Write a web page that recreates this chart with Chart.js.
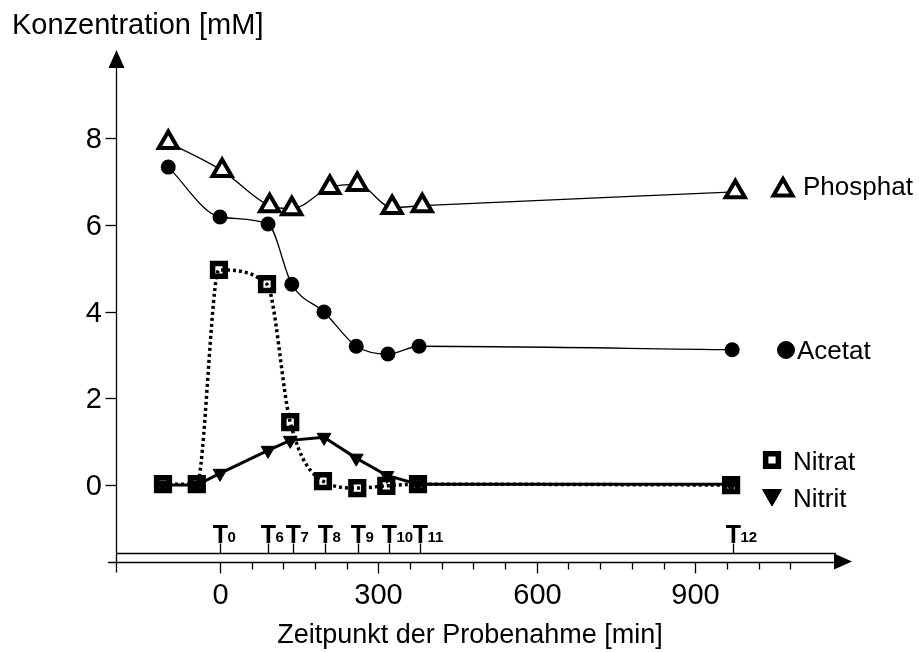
<!DOCTYPE html>
<html>
<head>
<meta charset="utf-8">
<script src="https://cdn.jsdelivr.net/npm/chart.js@4.4.0/dist/chart.umd.min.js"></script>
<style>
  html, body { margin: 0; padding: 0; background: #fff; }
  canvas { display: block; }
</style>
</head>
<body>
<canvas id="chart" width="919" height="652"></canvas>
<script>
// Messwerte: Zeit [min] und Konzentration [mM]
const phosphatTime = [-98, 4, 94, 136, 208, 260, 326, 383, 976];
const phosphatConc = [7.9, 7.25, 6.44, 6.37, 6.86, 6.93, 6.4, 6.44, 6.76];

const acetatTime = [-98, 0, 91, 136, 197, 258, 318, 377, 970];
const acetatConc = [7.33, 6.18, 6.02, 4.63, 3.99, 3.2, 3.02, 3.2, 3.12];

const nitratTime = [-108, -44, -2, 89, 133, 195, 260, 315, 375, 968];
const nitratConc = [0.02, 0.02, 4.96, 4.63, 1.45, 0.09, -0.07, -0.02, 0.02, 0];

const nitritTime = [-108, -44, 0, 91, 133, 197, 258, 316, 375, 968];
const nitritConc = [0, 0, 0.27, 0.8, 1.03, 1.1, 0.62, 0.22, 0.02, 0.02];

// Probenahme-Zeitpunkte T0 ... T12
const sampleTimes = [0, 90, 138, 199, 261, 320, 379, 972];
const sampleNames = ['0', '6', '7', '8', '9', '10', '11', '12'];

// Achsenbeschriftung
const xMajorTicks = [0, 300, 600, 900];
const xMinorTicks = [60, 120, 180, 240, 360, 420, 480, 540, 660, 720, 780, 840, 960, 1020, 1080];
const yTicks = [0, 2, 4, 6, 8];

const legendLabels = ['Phosphat', 'Acetat', 'Nitrat', 'Nitrit'];

const FONT = "'Liberation Sans', Arial, sans-serif";

function toPoints(xs, ys) {
  return xs.map((v, i) => ({ x: v, y: ys[i] }));
}

// Achsen, Pfeile, T-Marken und Beschriftung selbst zeichnen
const axesPlugin = {
  id: 'axes',
  beforeDatasetsDraw(chart) {
    const ctx = chart.ctx;
    const sx = chart.scales.x;
    const sy = chart.scales.y;
    const area = chart.chartArea;
    const left = area.left + 0.5;
    const base = area.bottom + 0.5;   // untere x-Achse
    const upper = base - 9;           // Linie der Probenahme
    const arrowX = 852;

    ctx.save();
    ctx.strokeStyle = '#000';
    ctx.fillStyle = '#000';
    ctx.lineWidth = 1.3;

    // y-Achse
    ctx.beginPath();
    ctx.moveTo(left, area.top + 6);
    ctx.lineTo(left, base + 10);
    ctx.stroke();
    ctx.beginPath();
    ctx.moveTo(left, area.top - 10);
    ctx.lineTo(left - 8, area.top + 8);
    ctx.lineTo(left + 8, area.top + 8);
    ctx.closePath();
    ctx.fill();

    // x-Achsen (doppelt)
    ctx.beginPath();
    ctx.moveTo(108, base);
    ctx.lineTo(arrowX - 16, base);
    ctx.moveTo(left, upper);
    ctx.lineTo(arrowX - 16, upper);
    ctx.stroke();
    ctx.beginPath();
    ctx.moveTo(arrowX, base - 1);
    ctx.lineTo(arrowX - 18, upper);
    ctx.lineTo(arrowX - 18, base + 7);
    ctx.closePath();
    ctx.fill();

    // y-Ticks
    ctx.font = '29px ' + FONT;
    ctx.textAlign = 'right';
    ctx.textBaseline = 'middle';
    yTicks.forEach(v => {
      const py = Math.round(sy.getPixelForValue(v)) + 0.5;
      ctx.beginPath();
      ctx.moveTo(left - 11, py);
      ctx.lineTo(left, py);
      ctx.stroke();
      ctx.fillText(String(v), 102, py + 1);
    });

    // x-Ticks
    xMinorTicks.forEach(v => {
      const px = Math.round(sx.getPixelForValue(v)) + 0.5;
      ctx.beginPath();
      ctx.moveTo(px, base);
      ctx.lineTo(px, base + 7);
      ctx.stroke();
    });
    ctx.textAlign = 'center';
    ctx.textBaseline = 'alphabetic';
    xMajorTicks.forEach(v => {
      const px = Math.round(sx.getPixelForValue(v)) + 0.5;
      ctx.beginPath();
      ctx.moveTo(px, base);
      ctx.lineTo(px, base + 11);
      ctx.stroke();
      ctx.fillText(String(v), px, base + 41);
    });

    // Probenahme-Zeitpunkte
    sampleTimes.forEach((t, i) => {
      const px = Math.round(sx.getPixelForValue(t)) + 0.5;
      ctx.beginPath();
      ctx.moveTo(px, upper);
      ctx.lineTo(px, upper - 10);
      ctx.stroke();
      ctx.font = 'bold 25px ' + FONT;
      ctx.textAlign = 'center';
      ctx.fillText('T', px, upper - 11);
      ctx.font = 'bold 15px ' + FONT;
      ctx.textAlign = 'left';
      ctx.fillText(sampleNames[i], px + 7, upper - 12);
    });

    // Achsentitel
    ctx.font = '27px ' + FONT;
    ctx.textAlign = 'center';
    ctx.fillText('Zeitpunkt der Probenahme [min]', 470, 643);
    ctx.font = '29px ' + FONT;
    ctx.textAlign = 'left';
    ctx.fillText('Konzentration [mM]', 12, 34);

    ctx.restore();
  },
  afterDatasetsDraw(chart) {
    const ctx = chart.ctx;
    const draw = Chart.helpers.drawPoint;
    ctx.save();
    ctx.strokeStyle = '#000';
    ctx.fillStyle = '#000';
    ctx.font = '26px ' + FONT;
    ctx.textAlign = 'left';
    ctx.textBaseline = 'alphabetic';

    // Phosphat
    ctx.fillStyle = '#fff';
    ctx.lineWidth = 4;
    draw(ctx, { pointStyle: 'triangle', radius: 11, rotation: 0, borderWidth: 4 }, 783, 190);
    ctx.fillStyle = '#000';
    ctx.fillText(legendLabels[0], 803, 195);

    // Acetat
    ctx.lineWidth = 1;
    draw(ctx, { pointStyle: 'circle', radius: 8.5, rotation: 0, borderWidth: 1 }, 786, 350);
    ctx.fillText(legendLabels[1], 797, 359);

    // Nitrat
    ctx.fillStyle = '#fff';
    ctx.lineWidth = 5.5;
    draw(ctx, { pointStyle: 'rect', radius: 9, rotation: 0, borderWidth: 5.5 }, 772, 460);
    ctx.fillStyle = '#000';
    ctx.fillText(legendLabels[2], 793, 470);

    // Nitrit
    ctx.lineWidth = 1;
    draw(ctx, { pointStyle: 'triangle', radius: 11, rotation: 180, borderWidth: 1 }, 772, 495);
    ctx.fillText(legendLabels[3], 793, 507);

    ctx.restore();
  }
};

new Chart(document.getElementById('chart'), {
  type: 'scatter',
  data: {
    datasets: [
      {
        label: 'Phosphat',
        data: toPoints(phosphatTime, phosphatConc),
        showLine: true,
        borderColor: '#000',
        borderWidth: 1.3,
        cubicInterpolationMode: 'monotone',
        pointStyle: 'triangle',
        pointRadius: 11,
        pointBorderWidth: 4,
        pointBackgroundColor: '#fff',
        pointBorderColor: '#000'
      },
      {
        label: 'Acetat',
        data: toPoints(acetatTime, acetatConc),
        showLine: true,
        borderColor: '#000',
        borderWidth: 1.3,
        cubicInterpolationMode: 'monotone',
        pointStyle: 'circle',
        pointRadius: 7.5,
        pointBorderWidth: 0,
        pointBackgroundColor: '#000'
      },
      {
        label: 'Nitrat',
        data: toPoints(nitratTime, nitratConc),
        showLine: true,
        borderColor: '#000',
        borderWidth: 3.5,
        borderDash: [3, 3],
        cubicInterpolationMode: 'monotone',
        pointStyle: 'rect',
        pointRadius: 9,
        pointBorderWidth: 5.5,
        pointBackgroundColor: 'rgba(255,255,255,0)',
        pointBorderColor: '#000'
      },
      {
        label: 'Nitrit',
        data: toPoints(nitritTime, nitritConc),
        showLine: true,
        borderColor: '#000',
        borderWidth: 3,
        tension: 0,
        pointStyle: 'triangle',
        pointRotation: 180,
        pointRadius: 8,
        pointBorderWidth: 1,
        pointBackgroundColor: '#000',
        pointBorderColor: '#000'
      }
    ]
  },
  options: {
    responsive: false,
    animation: false,
    layout: { padding: { left: 116, top: 60, right: 67, bottom: 90 } },
    scales: {
      x: { type: 'linear', display: false, min: -197, max: 1197 },
      y: { type: 'linear', display: false, min: -1.775, max: 9.8 }
    },
    plugins: {
      legend: { display: false },
      tooltip: { enabled: false }
    }
  },
  plugins: [axesPlugin]
});
</script>
</body>
</html>
